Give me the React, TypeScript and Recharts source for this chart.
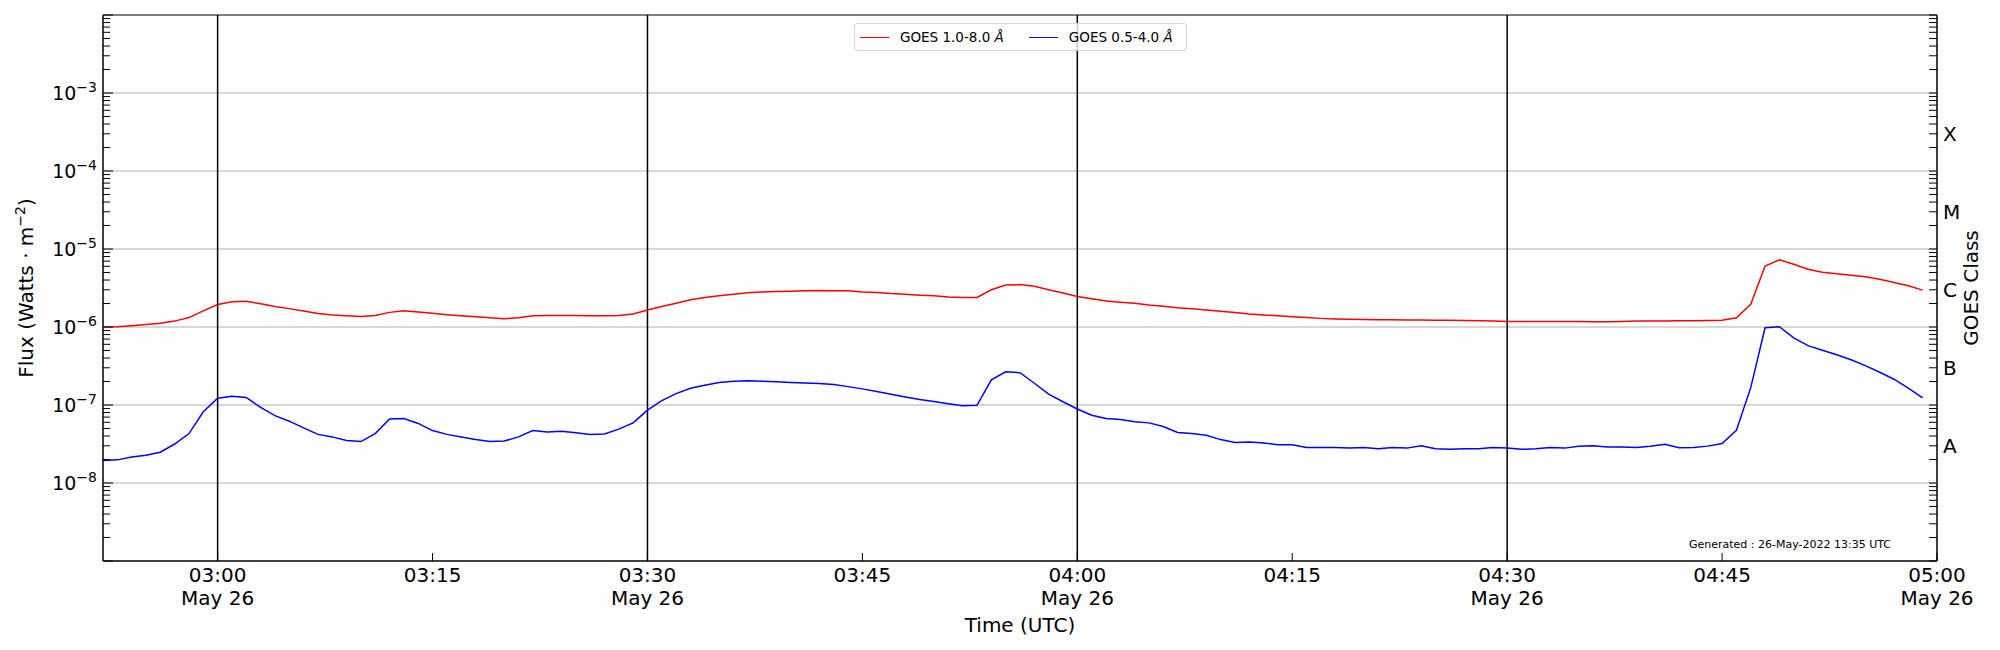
import React from "react";
import { LineChart, Line, XAxis, YAxis, ReferenceLine, ReferenceArea, Legend, Label } from "recharts";

// one-minute GOES samples, 02:52 - 04:59 UTC, 26 May 2022
const TIMES = [
  "02:52", "02:53", "02:54", "02:55", "02:56", "02:57", "02:58", "02:59",
  "03:00", "03:01", "03:02", "03:03", "03:04", "03:05", "03:06", "03:07", "03:08", "03:09",
  "03:10", "03:11", "03:12", "03:13", "03:14", "03:15", "03:16", "03:17", "03:18", "03:19",
  "03:20", "03:21", "03:22", "03:23", "03:24", "03:25", "03:26", "03:27", "03:28", "03:29",
  "03:30", "03:31", "03:32", "03:33", "03:34", "03:35", "03:36", "03:37", "03:38", "03:39",
  "03:40", "03:41", "03:42", "03:43", "03:44", "03:45", "03:46", "03:47", "03:48", "03:49",
  "03:50", "03:51", "03:52", "03:53", "03:54", "03:55", "03:56", "03:57", "03:58", "03:59",
  "04:00", "04:01", "04:02", "04:03", "04:04", "04:05", "04:06", "04:07", "04:08", "04:09",
  "04:10", "04:11", "04:12", "04:13", "04:14", "04:15", "04:16", "04:17", "04:18", "04:19",
  "04:20", "04:21", "04:22", "04:23", "04:24", "04:25", "04:26", "04:27", "04:28", "04:29",
  "04:30", "04:31", "04:32", "04:33", "04:34", "04:35", "04:36", "04:37", "04:38", "04:39",
  "04:40", "04:41", "04:42", "04:43", "04:44", "04:45", "04:46", "04:47", "04:48", "04:49",
  "04:50", "04:51", "04:52", "04:53", "04:54", "04:55", "04:56", "04:57", "04:58", "04:59",
];

// 1.0-8.0 Å channel (W/m²)
const XRS_LONG = [
  1.0e-6, 1.01e-6, 1.04e-6, 1.08e-6, 1.12e-6, 1.19e-6, 1.32e-6, 1.61e-6,
  1.94e-6, 2.11e-6, 2.14e-6, 1.98e-6, 1.83e-6, 1.72e-6, 1.6e-6, 1.49e-6, 1.43e-6, 1.39e-6,
  1.36e-6, 1.4e-6, 1.54e-6, 1.61e-6, 1.56e-6, 1.5e-6, 1.44e-6, 1.39e-6, 1.35e-6, 1.31e-6,
  1.28e-6, 1.31e-6, 1.39e-6, 1.4e-6, 1.4e-6, 1.4e-6, 1.39e-6, 1.39e-6, 1.4e-6, 1.47e-6,
  1.65e-6, 1.83e-6, 2.02e-6, 2.23e-6, 2.39e-6, 2.51e-6, 2.63e-6, 2.74e-6, 2.8e-6, 2.85e-6,
  2.88e-6, 2.91e-6, 2.94e-6, 2.92e-6, 2.91e-6, 2.82e-6, 2.76e-6, 2.68e-6, 2.63e-6, 2.56e-6,
  2.51e-6, 2.43e-6, 2.39e-6, 2.39e-6, 3.0e-6, 3.45e-6, 3.5e-6, 3.32e-6, 3.0e-6, 2.72e-6,
  2.46e-6, 2.3e-6, 2.16e-6, 2.08e-6, 2.02e-6, 1.92e-6, 1.85e-6, 1.77e-6, 1.71e-6, 1.65e-6,
  1.59e-6, 1.53e-6, 1.47e-6, 1.43e-6, 1.39e-6, 1.35e-6, 1.32e-6, 1.29e-6, 1.27e-6, 1.26e-6,
  1.25e-6, 1.24e-6, 1.24e-6, 1.23e-6, 1.23e-6, 1.22e-6, 1.22e-6, 1.21e-6, 1.2e-6, 1.19e-6,
  1.18e-6, 1.18e-6, 1.18e-6, 1.18e-6, 1.18e-6, 1.18e-6, 1.17e-6, 1.17e-6, 1.18e-6, 1.19e-6,
  1.19e-6, 1.19e-6, 1.2e-6, 1.2e-6, 1.21e-6, 1.22e-6, 1.31e-6, 1.96e-6, 6.05e-6, 7.27e-6,
  6.36e-6, 5.49e-6, 5.04e-6, 4.8e-6, 4.62e-6, 4.4e-6, 4.09e-6, 3.71e-6, 3.37e-6, 2.97e-6,
];

// 0.5-4.0 Å channel (W/m²)
const XRS_SHORT = [
  1.94e-8, 1.98e-8, 2.16e-8, 2.27e-8, 2.48e-8, 3.16e-8, 4.3e-8, 8.2e-8,
  1.22e-7, 1.29e-7, 1.25e-7, 9.3e-8, 7.3e-8, 6.2e-8, 5.1e-8, 4.2e-8, 3.9e-8, 3.5e-8,
  3.4e-8, 4.3e-8, 6.6e-8, 6.7e-8, 5.8e-8, 4.7e-8, 4.2e-8, 3.9e-8, 3.6e-8, 3.4e-8,
  3.45e-8, 3.9e-8, 4.7e-8, 4.5e-8, 4.6e-8, 4.4e-8, 4.2e-8, 4.25e-8, 4.9e-8, 5.9e-8,
  8.6e-8, 1.14e-7, 1.4e-7, 1.64e-7, 1.79e-7, 1.94e-7, 2.02e-7, 2.04e-7, 2.02e-7, 1.98e-7,
  1.94e-7, 1.91e-7, 1.88e-7, 1.83e-7, 1.72e-7, 1.61e-7, 1.49e-7, 1.37e-7, 1.27e-7, 1.18e-7,
  1.11e-7, 1.04e-7, 9.8e-8, 9.9e-8, 2.1e-7, 2.67e-7, 2.6e-7, 1.9e-7, 1.38e-7, 1.1e-7,
  8.9e-8, 7.4e-8, 6.7e-8, 6.5e-8, 6.1e-8, 5.9e-8, 5.3e-8, 4.45e-8, 4.3e-8, 4.1e-8,
  3.6e-8, 3.3e-8, 3.35e-8, 3.25e-8, 3.1e-8, 3.1e-8, 2.85e-8, 2.85e-8, 2.85e-8, 2.8e-8,
  2.85e-8, 2.75e-8, 2.85e-8, 2.8e-8, 3.0e-8, 2.75e-8, 2.7e-8, 2.75e-8, 2.75e-8, 2.85e-8,
  2.8e-8, 2.7e-8, 2.75e-8, 2.85e-8, 2.8e-8, 2.95e-8, 3.0e-8, 2.9e-8, 2.9e-8, 2.85e-8,
  2.95e-8, 3.13e-8, 2.83e-8, 2.85e-8, 2.97e-8, 3.2e-8, 4.74e-8, 1.67e-7, 9.76e-7, 1.01e-6,
  7.27e-7, 5.77e-7, 5.04e-7, 4.4e-7, 3.8e-7, 3.2e-7, 2.63e-7, 2.14e-7, 1.65e-7, 1.23e-7,
];

const X_START = "02:52";
const X_END = "05:00";
const X_TICKS = ["03:00", "03:15", "03:30", "03:45", "04:00", "04:15", "04:30", "04:45", "05:00"];
const DATE_TICKS = ["03:00", "03:30", "04:00", "04:30", "05:00"];
const DATE_LABEL = "May 26";
const HOUR_LINES = ["03:00", "03:30", "04:00", "04:30"];
const DECADES = [1e-8, 1e-7, 1e-6, 1e-5, 1e-4, 1e-3];
const GOES_CLASSES = ["A", "B", "C", "M", "X"];
const GOES_CLASS_FLUX = [3e-8, 3e-7, 3e-6, 3e-5, 3e-4];
const GENERATED = "Generated : 26-May-2022 13:35 UTC";

const FONT = '"DejaVu Sans", sans-serif';

const toMin = (s: string) => {
  const [h, m] = s.split(":").map(Number);
  return h * 60 + m;
};
const fmt = (v: number) =>
  `${String(Math.floor(v / 60)).padStart(2, "0")}:${String(v % 60).padStart(2, "0")}`;

const rows = TIMES.map((t, i) => ({ t: toMin(t), long: XRS_LONG[i], short: XRS_SHORT[i] }));

// log ticks 1..9 x 10^n for the minor marks
const LOG_TICKS: number[] = [];
for (let e = -9; e < -2; e++) for (let k = 1; k < 10; k++) LOG_TICKS.push(k * Math.pow(10, e));
LOG_TICKS.push(1e-2);

const isDecade = (v: number) => Math.abs(Math.log10(v) - Math.round(Math.log10(v))) < 1e-6;

function FluxTick({ x, y, payload }: any) {
  const v = payload.value;
  const major = isDecade(v);
  const exp = Math.round(Math.log10(v));
  return (
    <g>
      <line x1={x} y1={y} x2={x + (major ? 10 : 7)} y2={y} stroke="#000" strokeWidth={1} />
      {major && exp >= -8 && exp <= -3 && (
        <text x={x - 6} y={y + 7} textAnchor="end" fontSize={19} fill="#000">
          10<tspan dy={-8} fontSize={14}>−{-exp}</tspan>
        </text>
      )}
    </g>
  );
}

function ClassTick({ x, y, payload }: any) {
  const v = payload.value;
  const idx = GOES_CLASS_FLUX.findIndex((f) => Math.abs(v / f - 1) < 1e-6);
  return (
    <g>
      <line x1={x} y1={y} x2={x - 8} y2={y} stroke="#000" strokeWidth={1} />
      {idx >= 0 && (
        <text x={x + 6} y={y + 7} textAnchor="start" fontSize={20} fill="#000">
          {GOES_CLASSES[idx]}
        </text>
      )}
    </g>
  );
}

function TimeTick({ x, y, payload }: any) {
  const label = fmt(payload.value);
  return (
    <g>
      <line x1={x} y1={y} x2={x} y2={y - 8} stroke="#000" strokeWidth={1} />
      <text x={x} y={y + 21} textAnchor="middle" fontSize={20} fill="#000">{label}</text>
      {DATE_TICKS.includes(label) && (
        <text x={x} y={y + 44} textAnchor="middle" fontSize={20} fill="#000">{DATE_LABEL}</text>
      )}
    </g>
  );
}

const FluxTitle = () => (
  <text transform="translate(33,288) rotate(-90)" textAnchor="middle" fontSize={20} fill="#000">
    Flux (Watts · m<tspan dy={-8} fontSize={14}>−2</tspan><tspan dy={8}>)</tspan>
  </text>
);

const ClassTitle = () => (
  <text transform="translate(1978,288) rotate(-90)" textAnchor="middle" fontSize={20} fill="#000">
    GOES Class
  </text>
);

const TimeTitle = () => (
  <g>
    <text x={1020} y={632} textAnchor="middle" fontSize={20} fill="#000">Time (UTC)</text>
    <text x={1790} y={548} textAnchor="middle" fontSize={11} fill="#000">{GENERATED}</text>
  </g>
);

function LegendBox({ payload }: any) {
  return (
    <div style={{
      boxSizing: "border-box",
      width: 333,
      height: 28,
      border: "1px solid rgba(204,204,204,0.8)",
      borderRadius: 4,
      background: "rgba(255,255,255,0.8)",
      display: "flex",
      alignItems: "center",
      paddingLeft: 5,
      fontFamily: FONT,
      fontSize: 13.5,
      color: "#000",
    }}>
      {(payload ?? []).map((p: any, i: number) => (
        <div key={p.value} style={{ display: "flex", alignItems: "center", marginLeft: i ? 25 : 0 }}>
          <div style={{ width: 29, borderTop: `1.5px solid ${p.color}` }} />
          <span style={{ marginLeft: 11, whiteSpace: "nowrap" }}>
            {p.value} <i>Å</i>
          </span>
        </div>
      ))}
    </div>
  );
}

export default function App() {
  return (
    <div style={{ position: "absolute", left: 0, top: 0, width: 2000, height: 650, background: "#fff", fontFamily: FONT }}>
      <LineChart width={2000} height={650} data={rows} margin={{ top: 15, right: 23, bottom: 29, left: 23 }}>
        <XAxis
          dataKey="t"
          type="number"
          domain={[toMin(X_START), toMin(X_END)]}
          allowDataOverflow
          ticks={X_TICKS.map(toMin)}
          interval={0}
          tickSize={0}
          tickMargin={0}
          tickLine={false}
          tick={(p: any) => <TimeTick {...p} />}
          axisLine={{ stroke: "#000" }}
          height={60}
        >
          <Label content={TimeTitle} />
        </XAxis>
        <YAxis
          yAxisId="flux"
          type="number"
          scale="log"
          domain={[1e-9, 1e-2]}
          allowDataOverflow
          ticks={LOG_TICKS}
          interval={0}
          tickSize={0}
          tickMargin={0}
          tickLine={false}
          tick={(p: any) => <FluxTick {...p} />}
          axisLine={{ stroke: "#000" }}
          width={80}
        >
          <Label content={FluxTitle} />
        </YAxis>
        <YAxis
          yAxisId="goes"
          orientation="right"
          type="number"
          scale="log"
          domain={[1e-9, 1e-2]}
          allowDataOverflow
          ticks={LOG_TICKS}
          interval={0}
          tickSize={0}
          tickMargin={0}
          tickLine={false}
          tick={(p: any) => <ClassTick {...p} />}
          axisLine={{ stroke: "#000" }}
          width={40}
        >
          <Label content={ClassTitle} />
        </YAxis>

        {DECADES.map((d) => (
          <ReferenceLine key={d} yAxisId="flux" y={d} stroke="#b0b0b0" strokeWidth={1} />
        ))}
        {HOUR_LINES.map((h) => (
          <ReferenceLine key={h} yAxisId="flux" x={toMin(h)} stroke="#000" strokeWidth={1.5} />
        ))}
        <ReferenceArea
          yAxisId="flux"
          x1={toMin(X_START)}
          x2={toMin(X_END)}
          y1={1e-9}
          y2={1e-2}
          fill="none"
          fillOpacity={0}
          stroke="#000"
          strokeWidth={1}
          ifOverflow="visible"
        />

        <Line
          yAxisId="flux"
          dataKey="long"
          name="GOES 1.0-8.0"
          type="linear"
          stroke="#ff0000"
          strokeWidth={1.5}
          dot={false}
          isAnimationActive={false}
        />
        <Line
          yAxisId="flux"
          dataKey="short"
          name="GOES 0.5-4.0"
          type="linear"
          stroke="#0000ff"
          strokeWidth={1.5}
          dot={false}
          isAnimationActive={false}
        />
        <Legend
          layout="horizontal"
          verticalAlign="middle"
          align="center"
          itemSorter="dataKey"
          wrapperStyle={{ top: 23, left: 854, width: 333, height: 28 }}
          content={(p: any) => <LegendBox {...p} />}
        />
      </LineChart>
    </div>
  );
}
